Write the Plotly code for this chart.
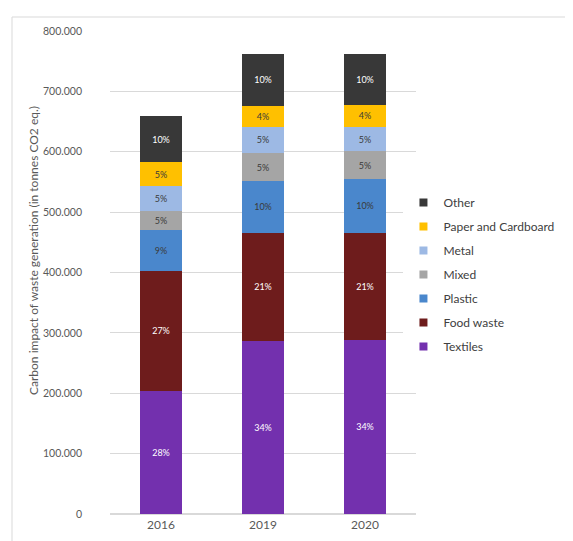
import plotly.graph_objects as go

years = ["2016", "2019", "2020"]

# carbon impact per waste stream, tonnes CO2 eq.
textiles = [204000, 286000, 289000]
food_waste = [199000, 180000, 177000]
plastic = [68000, 85000, 89000]
mixed = [31000, 47000, 46000]
metal = [41000, 43000, 40000]
paper = [40000, 35000, 37000]
other = [76000, 86000, 84000]

# percentage labels as printed on the bars
textiles_pct = ["28%", "34%", "34%"]
food_pct = ["27%", "21%", "21%"]
plastic_pct = ["9%", "10%", "10%"]
mixed_pct = ["5%", "5%", "5%"]
metal_pct = ["5%", "5%", "5%"]
paper_pct = ["5%", "4%", "4%"]
other_pct = ["10%", "10%", "10%"]

series = [
    ("Textiles", textiles, textiles_pct, "#7330AE", "white"),
    ("Food waste", food_waste, food_pct, "#6E1C1C", "white"),
    ("Plastic", plastic, plastic_pct, "#4A87CC", "#3a3a3a"),
    ("Mixed", mixed, mixed_pct, "#A5A5A5", "#3a3a3a"),
    ("Metal", metal, metal_pct, "#9DB9E4", "#3a3a3a"),
    ("Paper and Cardboard", paper, paper_pct, "#FFC000", "#3a3a3a"),
    ("Other", other, other_pct, "#383838", "white"),
]

FONT = "Lato, 'Open Sans', sans-serif"

fig = go.Figure()
for name, vals, pct, color, tcolor in series:
    fig.add_trace(go.Bar(
        x=years, y=vals, name=name, text=pct,
        textposition="inside", insidetextanchor="middle", textangle=0,
        textfont=dict(family=FONT, size=9, color=tcolor),
        constraintext="none",
        marker=dict(color=color, line=dict(width=0)),
        showlegend=False, hoverinfo="skip",
    ))

# small square swatches for the legend, top of the stack first
for name, vals, pct, color, tcolor in reversed(series):
    fig.add_trace(go.Scatter(
        x=[None], y=[None], mode="markers", name=name, legendgroup=name,
        marker=dict(symbol="square", size=8, color=color),
    ))

fig.add_annotation(
    text="Carbon impact of waste generation (in tonnes CO2 eq.)",
    xref="paper", yref="paper", x=(25 - 102) / 306, y=(506 - 243) / 483,
    xanchor="center", yanchor="middle",
    textangle=-90, showarrow=False, font=dict(family=FONT, size=12, color="#595959"),
)

fig.add_shape(type="rect", xref="paper", yref="paper",
              x0=(4 - 102) / 306, x1=(569 - 102) / 306,
              y0=(506 - 539) / 483, y1=(506 - 9) / 483,
              line=dict(color="#d9d9d9", width=1))

fig.update_layout(
    barmode="stack",
    bargap=0.59,
    width=573, height=541,
    margin=dict(l=102, r=165, t=23, b=35),
    plot_bgcolor="white", paper_bgcolor="white",
    separators=",.",
    font=dict(family=FONT, size=11, color="#595959"),
    legend=dict(
        x=0.959, y=0.675, xanchor="left", yanchor="top",
        traceorder="grouped", tracegroupgap=5,
        font=dict(family=FONT, size=12, color="#404040"),
        itemwidth=30,
    ),
)
fig.update_yaxes(
    range=[0, 800000], dtick=100000, tickformat=",d",
    showgrid=True, gridcolor="#d9d9d9", gridwidth=1,
    zeroline=True, zerolinecolor="#d9d9d9",
    showline=False, ticks="", ticklabelstandoff=27,
    tickfont=dict(family=FONT, size=10.5, color="#595959"),
)
fig.update_xaxes(
    showline=False, ticks="", ticklabelstandoff=2,
    tickfont=dict(family=FONT, size=12, color="#595959"),
)

fig.write_html("out.html")
